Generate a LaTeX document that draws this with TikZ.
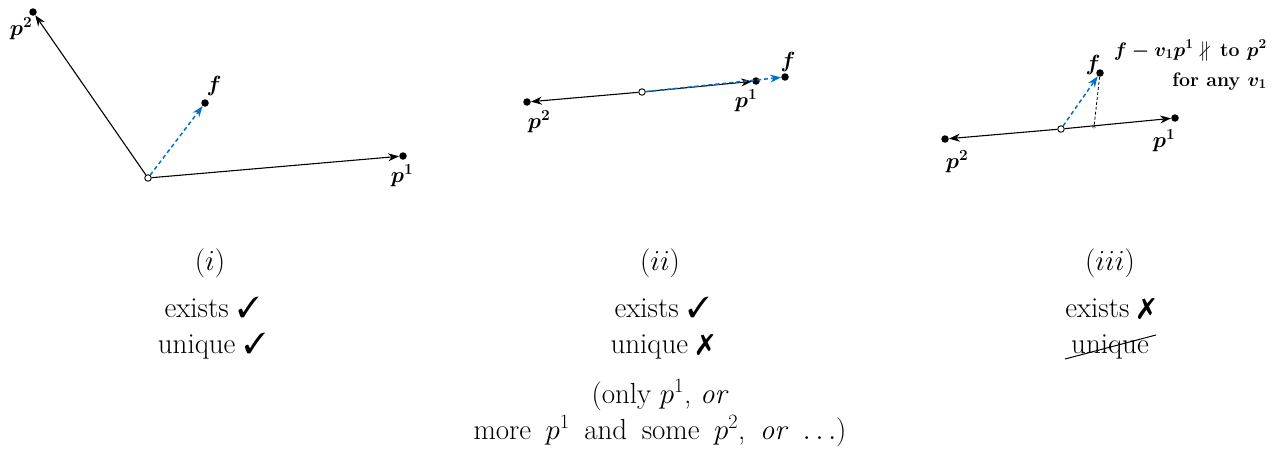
\RequirePackage{fix-cm}
\documentclass[tikz,border=0pt]{standalone}
\usepackage{amsmath,amssymb}
\usepackage{pifont}
\usepackage{fontspec}
\usetikzlibrary{arrows.meta}
\definecolor{vecblue}{RGB}{0,114,198}
\tikzset{
  dot/.style={circle,fill=black,inner sep=0pt,minimum size=7.5pt},
  odot/.style={circle,draw=black,fill=white,line width=0.9pt,inner sep=0pt,minimum size=6.5pt},
  vec/.style={line width=1.1pt,-{Stealth[length=11pt,width=8pt]}},
  bvec/.style={vecblue,line width=1.5pt,dash pattern=on 4pt off 3pt,-{Stealth[length=11pt,width=8pt]}},
  lbl/.style={font=\fontsize{22}{25}\selectfont\bfseries\boldmath,inner sep=0pt},
  note/.style={font=\fontsize{19.5}{22}\selectfont\bfseries\boldmath,inner sep=0pt},
  big/.style={font=\fontsize{29}{35}\selectfont,inner sep=0pt,anchor=base},
}
\begin{document}
\begin{tikzpicture}[x=1pt,y=-1pt]
\useasboundingbox (0,0) rectangle (1286,450);
% ---------- panel (i)
\node[dot] (p1a) at (403,156) {};
\node[dot] (p2a) at (33,12) {};
\node[dot] (fa) at (205,103) {};
\node[odot] (oa) at (148,178) {};
\draw[vec] (oa) -- (p1a);
\draw[vec] (oa) -- (p2a);
\draw[bvec] (oa) -- (fa);
\node[lbl] (lp2a) at (21,29) {$p^2$};
\node[lbl] (lfa) at (214,86) {$f$};
\node[lbl] (lp1a) at (402,176) {$p^1$};
% ---------- panel (ii)
\node[dot] (p1b) at (756,81) {};
\node[dot] (p2b) at (527,102) {};
\node[dot] (fb) at (785,77) {};
\node[odot] (ob) at (642,92) {};
\draw[vec] (ob) -- (p1b);
\draw[vec] (ob) -- (p2b);
\draw[bvec] (ob) -- (fb);
\node[lbl] (lp2b) at (539,122) {$p^2$};
\node[lbl] (lp1b) at (746,101) {$p^1$};
\node[lbl] (lfb) at (788,62) {$f$};
% ---------- panel (iii)
\node[dot] (p1c) at (1175,118) {};
\node[dot] (p2c) at (945,139) {};
\node[dot] (fc) at (1100,73) {};
\node[odot] (oc) at (1061,129) {};
\node[inner sep=0pt,font=\fontsize{10}{10}\selectfont] (qc) at (1094,127) {$\ast$};
\draw[vec] (oc) -- (p1c);
\draw[vec] (oc) -- (p2c);
\draw[line width=0.8pt,dash pattern=on 3pt off 2pt] (fc) -- (qc);
\draw[bvec] (oc) -- (fc);
\node[lbl] (lfc) at (1093,65) {$f$};
\node[lbl] (lp1c) at (1164,141) {$p^1$};
\node[lbl] (lp2c) at (957,162) {$p^2$};
\node[note,anchor=base east] (t1c) at (1267,56) {$f - v_1p^1 \nparallel$\, to $p^2$};
\node[note,anchor=base east] (t2c) at (1267,86) {for any $v_1$};
% ---------- captions
\node[big] (ca) at (210,270) {$(i)$};
\node[big] (ea) at (212,317) {exists \ding{51}};
\node[big] (ua) at (212,353) {unique \ding{51}};
\node[big] (cb) at (660,270) {$(ii)$};
\node[big] (eb) at (662,317) {exists \ding{51}};
\node[big] (ub) at (662,353) {unique \ding{55}};
\node[big] (nb1) at (660,403) {(only $p^1$, \textit{or}};
\node[big] (nb2) at (660,439) {\spaceskip=0.5em more $p^1$ and some $p^2$, \textit{or} $\ldots$)};
\node[big] (cc) at (1110,270) {$(iii)$};
\node[big] (ec) at (1110,317) {exists \ding{55}};
\node[big] (uc) at (1110,353) {unique};
\coordinate (s1) at (1065,359);
\coordinate (s2) at (1156,335);
\draw[line width=1pt] (s1) -- (s2);
\end{tikzpicture}
\end{document}
